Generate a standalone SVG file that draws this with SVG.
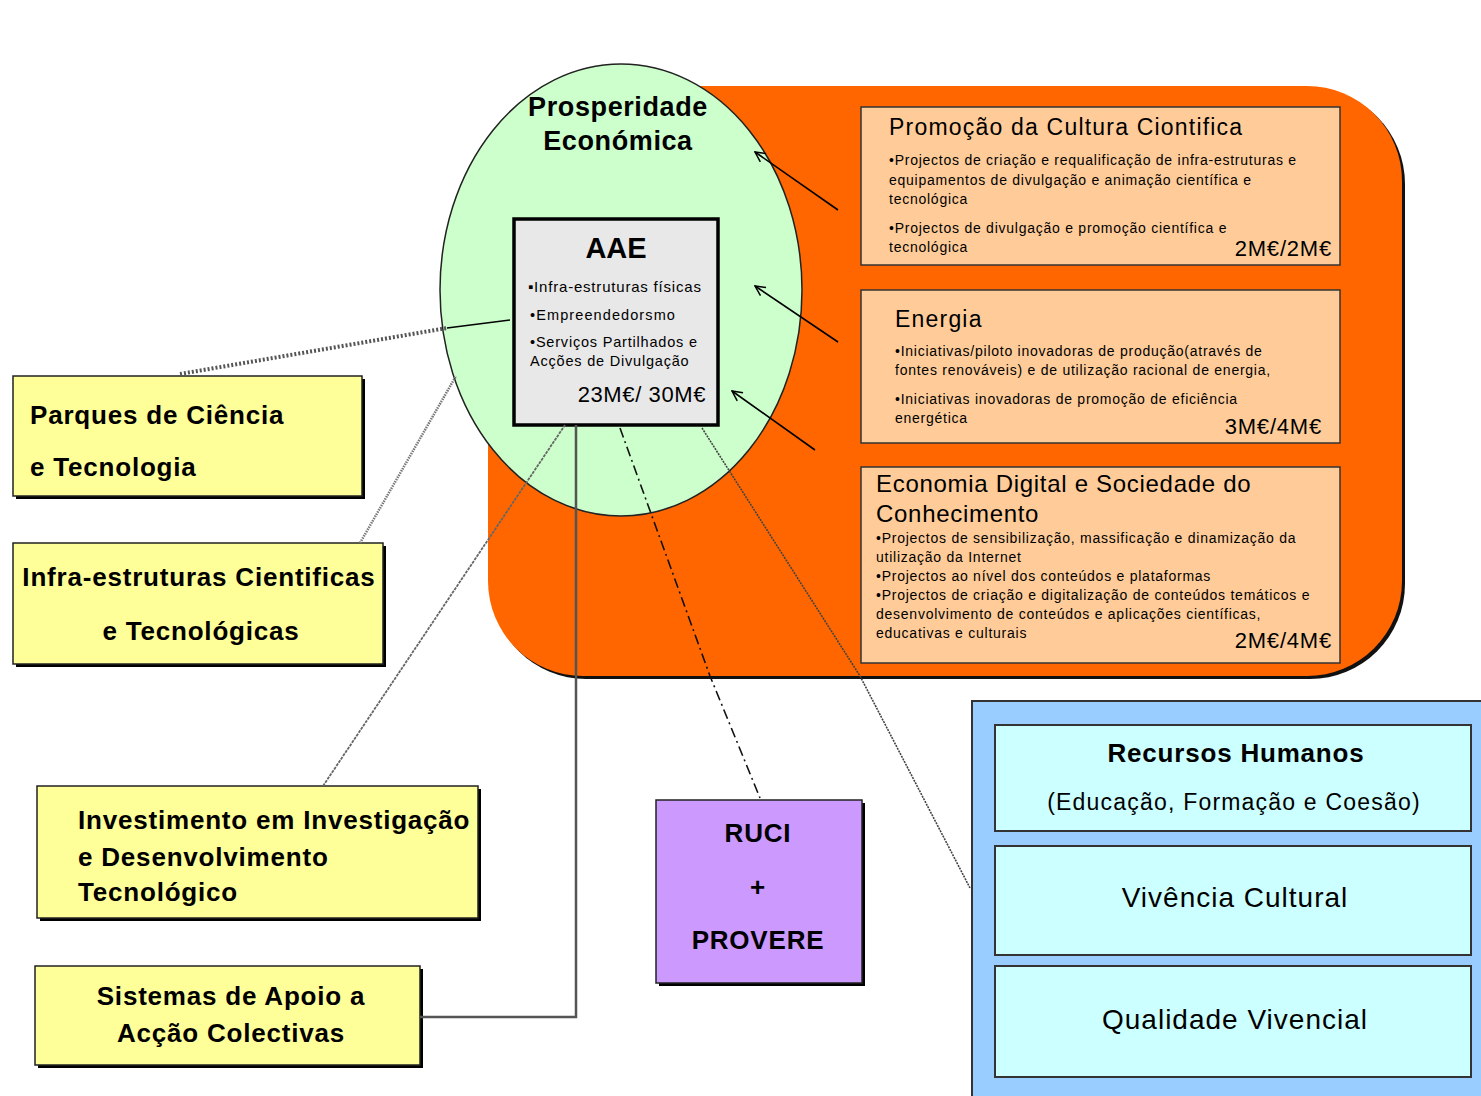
<svg xmlns="http://www.w3.org/2000/svg" width="1481" height="1096" viewBox="0 0 1481 1096">
<defs>
<style>
text{font-family:"Liberation Sans",Arial,sans-serif;fill:#000}
.yel{fill:#ffff99;stroke:#222;stroke-width:1.5}
.sh{fill:#000}
.peach{fill:#ffcc99;stroke:#333;stroke-width:1.5}
.ttl{font-size:23px;letter-spacing:1.2px}
.bul{font-size:14px;letter-spacing:0.75px}
.amt{font-size:22px;letter-spacing:0.8px;text-anchor:end}
.big{font-size:26px;font-weight:bold;letter-spacing:0.8px}
.cyan{fill:#ccffff;stroke:#333;stroke-width:2}
.mid{text-anchor:middle}
</style>
<marker id="ah" viewBox="0 0 12 12" refX="11" refY="6" markerWidth="12" markerHeight="12" markerUnits="userSpaceOnUse" orient="auto">
<path d="M1,1 L11,6 L1,11" fill="none" stroke="#000" stroke-width="1.5"/>
</marker>
</defs>
<rect width="1481" height="1096" fill="#fff"/>

<g id="orange-panel">
<rect x="491" y="89" width="914" height="590" rx="95" fill="#111"/>
<rect x="488" y="86" width="914" height="590" rx="95" fill="#ff6600"/>
</g>

<g id="prosperidade">
<ellipse cx="621" cy="290" rx="181" ry="226" fill="#ccffcc" stroke="#222" stroke-width="1.5"/>
<text x="618" y="116" class="mid" font-size="27" font-weight="bold" letter-spacing="0.6">Prosperidade</text>
<text x="618" y="150" class="mid" font-size="27" font-weight="bold" letter-spacing="0.6">Económica</text>
</g>

<g id="aae">
<rect x="514" y="219" width="204" height="206" fill="#e8e8e8" stroke="#000" stroke-width="3.5"/>
<text x="616" y="258" class="mid" font-size="29" font-weight="bold">AAE</text>
<text x="528" y="292" font-size="15" letter-spacing="0.8">▪Infra-estruturas físicas</text>
<text x="530" y="320" font-size="14.5" letter-spacing="1.1">•Empreendedorsmo</text>
<text x="530" y="347" font-size="14.5" letter-spacing="0.8">•Serviços Partilhados e</text>
<text x="530" y="366" font-size="14.5" letter-spacing="0.8">Acções de Divulgação</text>
<text x="706" y="402" font-size="22" letter-spacing="0.6" text-anchor="end">23M€/ 30M€</text>
</g>

<g id="cultura">
<rect x="861" y="107" width="479" height="158" class="peach"/>
<text x="889" y="135" class="ttl">Promoção da Cultura Ciontifica</text>
<text x="889" y="165" class="bul">•Projectos de criação e requalificação de infra-estruturas e</text>
<text x="889" y="185" class="bul">equipamentos de divulgação e animação científica e</text>
<text x="889" y="204" class="bul">tecnológica</text>
<text x="889" y="233" class="bul">•Projectos de divulgação e promoção científica e</text>
<text x="889" y="252" class="bul">tecnológica</text>
<text x="1332" y="256" class="amt">2M€/2M€</text>
</g>

<g id="energia">
<rect x="861" y="290" width="479" height="153" class="peach"/>
<text x="895" y="327" class="ttl">Energia</text>
<text x="895" y="356" class="bul">•Iniciativas/piloto inovadoras de produção(através de</text>
<text x="895" y="375" class="bul">fontes renováveis) e de utilização racional de energia,</text>
<text x="895" y="404" class="bul">•Iniciativas inovadoras de promoção de eficiência</text>
<text x="895" y="423" class="bul">energética</text>
<text x="1322" y="434" class="amt">3M€/4M€</text>
</g>

<g id="economia">
<rect x="861" y="467" width="479" height="196" class="peach"/>
<text x="876" y="492" font-size="24" letter-spacing="0.7">Economia Digital e Sociedade do</text>
<text x="876" y="522" font-size="24" letter-spacing="0.7">Conhecimento</text>
<text x="876" y="543" class="bul">•Projectos de sensibilização, massificação e dinamização da</text>
<text x="876" y="562" class="bul">utilização da Internet</text>
<text x="876" y="581" class="bul">•Projectos ao nível dos conteúdos e plataformas</text>
<text x="876" y="600" class="bul">•Projectos de criação e digitalização de conteúdos temáticos e</text>
<text x="876" y="619" class="bul">desenvolvimento de conteúdos e aplicações científicas,</text>
<text x="876" y="638" class="bul">educativas e culturais</text>
<text x="1332" y="648" class="amt">2M€/4M€</text>
</g>

<g id="parques">
<rect x="16" y="379" width="349" height="120" class="sh"/>
<rect x="13" y="376" width="349" height="120" class="yel"/>
<text x="30" y="424" class="big">Parques de Ciência</text>
<text x="30" y="476" class="big">e Tecnologia</text>
</g>

<g id="infra">
<rect x="16" y="546" width="370" height="121" class="sh"/>
<rect x="13" y="543" width="370" height="121" class="yel"/>
<text x="199" y="586" class="big mid" letter-spacing="0.6">Infra-estruturas Cientificas</text>
<text x="201" y="640" class="big mid">e Tecnológicas</text>
</g>

<g id="investimento">
<rect x="40" y="789" width="441" height="132" class="sh"/>
<rect x="37" y="786" width="441" height="132" class="yel"/>
<text x="78" y="829" class="big">Investimento em Investigação</text>
<text x="78" y="866" class="big">e Desenvolvimento</text>
<text x="78" y="901" class="big">Tecnológico</text>
</g>

<g id="sistemas">
<rect x="38" y="969" width="385" height="99" class="sh"/>
<rect x="35" y="966" width="385" height="99" class="yel"/>
<text x="231" y="1005" class="big mid">Sistemas de Apoio a</text>
<text x="231" y="1042" class="big mid">Acção Colectivas</text>
</g>

<g id="ruci">
<rect x="659" y="803" width="206" height="183" class="sh"/>
<rect x="656" y="800" width="206" height="183" fill="#cc99ff" stroke="#222" stroke-width="1.5"/>
<text x="758" y="842" class="big mid" font-size="27">RUCI</text>
<text x="758" y="896" class="big mid" font-size="27">+</text>
<text x="758" y="949" class="big mid" font-size="27">PROVERE</text>
</g>

<g id="qualidade-vida">
<rect x="972" y="701" width="512" height="400" fill="#99ccff" stroke="#333" stroke-width="2"/>
<g id="recursos">
<rect x="995" y="725" width="476" height="106" class="cyan"/>
<text x="1236" y="762" class="big mid" letter-spacing="1.6">Recursos Humanos</text>
<text x="1234" y="810" class="mid" font-size="23" letter-spacing="1.2">(Educação, Formação e Coesão)</text>
</g>
<g id="vivencia">
<rect x="995" y="846" width="476" height="109" class="cyan"/>
<text x="1235" y="907" class="mid" font-size="28" letter-spacing="1">Vivência Cultural</text>
</g>
<g id="qualidade">
<rect x="995" y="966" width="476" height="111" class="cyan"/>
<text x="1235" y="1029" class="mid" font-size="28" letter-spacing="1">Qualidade Vivencial</text>
</g>
</g>

<g id="connectors" fill="none">
<line x1="838" y1="210" x2="755" y2="152" stroke="#000" stroke-width="1.6" marker-end="url(#ah)"/>
<line x1="838" y1="342" x2="755" y2="286" stroke="#000" stroke-width="1.6" marker-end="url(#ah)"/>
<line x1="815" y1="450" x2="732" y2="391" stroke="#000" stroke-width="1.6" marker-end="url(#ah)"/>
<line x1="180" y1="374" x2="447" y2="328" stroke="#555" stroke-width="4" stroke-dasharray="2 2"/>
<line x1="447" y1="328" x2="510" y2="320" stroke="#000" stroke-width="1.5"/>
<line x1="360" y1="543" x2="456" y2="376" stroke="#777" stroke-width="2.5" stroke-dasharray="1.5 1"/>
<line x1="323" y1="786" x2="565" y2="425" stroke="#666" stroke-width="1.8" stroke-dasharray="3 1"/>
<polyline points="420,1017 576,1017 576,425" stroke="#555" stroke-width="2.5"/>
<polyline points="620,428 710,676 760,798" stroke="#111" stroke-width="1.6" stroke-dasharray="10 4 2 4"/>
<polyline points="702,428 860,676 970,888" stroke="#444" stroke-width="1.6" stroke-dasharray="2 1"/>
</g>
</svg>
